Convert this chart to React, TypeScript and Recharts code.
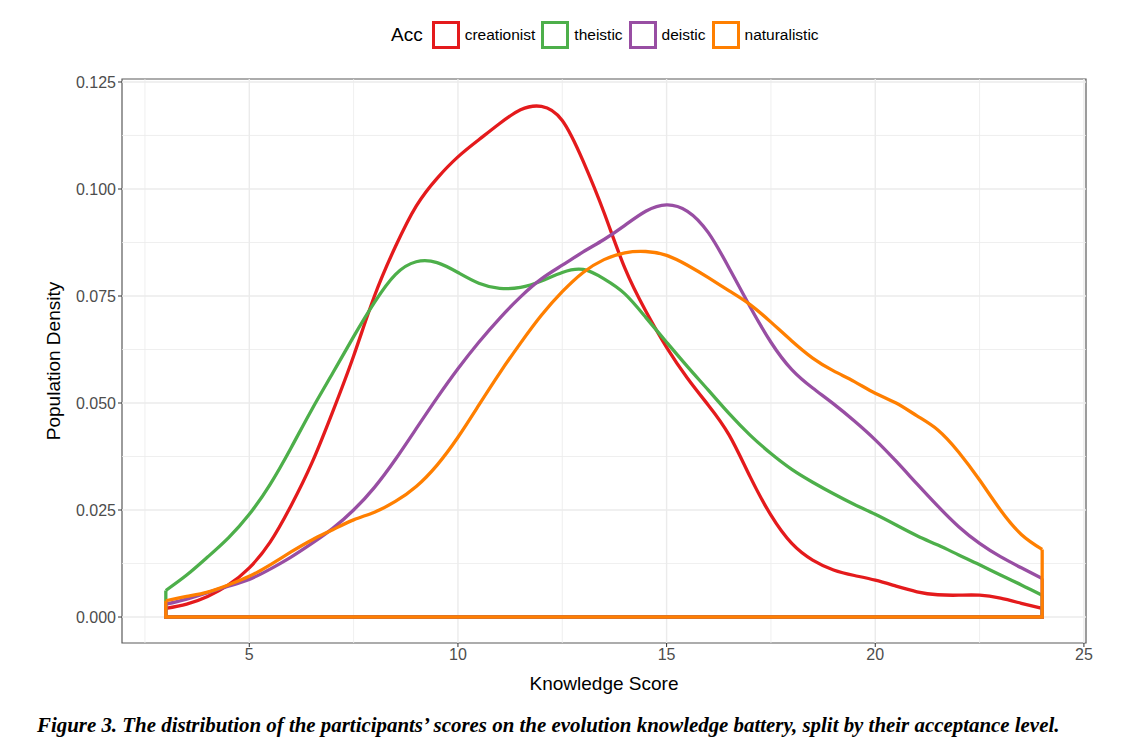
import { CartesianGrid, Line, LineChart, ReferenceArea, ReferenceLine, XAxis, YAxis } from 'recharts'

// knowledge score grid the densities were read at
const scores = [
  3, 3.5, 4, 4.5, 5, 5.5, 6, 6.5, 7, 7.5, 8, 8.5, 9, 9.5, 10, 10.5, 11, 11.5, 12, 12.5, 13, 13.5,
  14, 14.5, 15, 15.5, 16, 16.5, 17, 17.5, 18, 18.5, 19, 19.5, 20, 20.5, 21, 21.5, 22, 22.5, 23, 23.5, 24,
]

const creationist = [
  0.002, 0.003, 0.0048, 0.0075, 0.0115, 0.0175, 0.026, 0.036, 0.048, 0.061, 0.075, 0.0865, 0.096, 0.1025,
  0.1075, 0.1115, 0.1153, 0.1185, 0.1193, 0.116, 0.1065, 0.0945, 0.0815, 0.0715, 0.063, 0.0558, 0.0495,
  0.0425, 0.0328, 0.0238, 0.0172, 0.0133, 0.011, 0.0097, 0.0086, 0.0072, 0.0059, 0.0052, 0.0051, 0.0051,
  0.0044, 0.0032, 0.002,
]
const theistic = [
  0.0062, 0.0098, 0.014, 0.0185, 0.024, 0.031, 0.0395, 0.0485, 0.057, 0.0655, 0.0735, 0.08, 0.083,
  0.0828, 0.0805, 0.078, 0.0768, 0.077, 0.0785, 0.0805, 0.0812, 0.079, 0.0755, 0.07, 0.0642, 0.0585,
  0.053, 0.0475, 0.0425, 0.0382, 0.0345, 0.0315, 0.0288, 0.0263, 0.024, 0.0215, 0.019, 0.0168, 0.0145,
  0.0122, 0.0098, 0.0075, 0.0051,
]
const deistic = [
  0.003, 0.0042, 0.0057, 0.0072, 0.0088, 0.0112, 0.014, 0.0172, 0.0207, 0.025, 0.0303, 0.0368, 0.044,
  0.0512, 0.058, 0.0642, 0.0698, 0.0748, 0.079, 0.0822, 0.0853, 0.0882, 0.0915, 0.0948, 0.0963, 0.0948,
  0.0898, 0.0815, 0.0725, 0.0642, 0.0578, 0.0535, 0.0498, 0.0458, 0.0414, 0.0364, 0.0311, 0.0259, 0.0211,
  0.0172, 0.0141, 0.0115, 0.009,
]
const naturalistic = [
  0.0038, 0.0048, 0.0058, 0.0075, 0.0095, 0.0122, 0.0152, 0.018, 0.0204, 0.0227, 0.0245, 0.027, 0.0305,
  0.0355, 0.042, 0.0495, 0.057, 0.064, 0.0705, 0.076, 0.0805, 0.0835, 0.0851, 0.0854, 0.0845, 0.0822,
  0.0793, 0.0762, 0.073, 0.0689, 0.0645, 0.0605, 0.0575, 0.055, 0.0523, 0.05, 0.047, 0.0437, 0.0385,
  0.032, 0.025, 0.0193, 0.0158,
]

const groups = [
  { name: 'creationist', color: '#E41A1C', values: creationist },
  { name: 'theistic', color: '#4DAF4A', values: theistic },
  { name: 'deistic', color: '#984EA3', values: deistic },
  { name: 'naturalistic', color: '#FF7F00', values: naturalistic },
]

const xTicks = [5, 10, 15, 20, 25]
const xMinor = [2.5, 7.5, 12.5, 17.5, 22.5]
const yTicks = [0, 0.025, 0.05, 0.075, 0.1, 0.125]
const yMinor = [0.0125, 0.0375, 0.0625, 0.0875, 0.1125]
const xDomain = [1.95, 25.05]
const yDomain = [-0.00607, 0.1257]

const FONT = '"Liberation Sans", Arial, Helvetica, sans-serif'

function Legend() {
  return (
    <div style={{ position: 'absolute', left: 383, top: 13, display: 'flex', alignItems: 'center', height: 28 }}>
      <span style={{ fontSize: 19, marginRight: 9, color: '#000' }}>Acc</span>
      {groups.map(g => (
        <span key={g.name} style={{ display: 'flex', alignItems: 'center' }}>
          <span style={{ width: 28, height: 28, boxSizing: 'border-box', border: `3px solid ${g.color}`, background: '#fff' }} />
          <span style={{ fontSize: 15.5, marginLeft: 5, marginRight: 6, color: '#000' }}>{g.name}</span>
        </span>
      ))}
    </div>
  )
}

export default function App() {
  const last = scores.length - 1
  return (
    <div style={{ position: 'relative', width: 1110, height: 740, fontFamily: FONT, background: '#fff' }}>
      <Legend />
      <LineChart width={1110} height={695} margin={{ top: 71, right: 32, bottom: 0, left: 0 }}>
        <CartesianGrid stroke="none" />
        {xMinor.map(v => <ReferenceLine key={'xm' + v} x={v} stroke="#EBEBEB" strokeWidth={0.8} />)}
        {yMinor.map(v => <ReferenceLine key={'ym' + v} y={v} stroke="#EBEBEB" strokeWidth={0.8} />)}
        {xTicks.map(v => <ReferenceLine key={'xM' + v} x={v} stroke="#EBEBEB" strokeWidth={1.4} />)}
        {yTicks.map(v => <ReferenceLine key={'yM' + v} y={v} stroke="#EBEBEB" strokeWidth={1.4} />)}
        <XAxis
          dataKey="x"
          type="number"
          domain={xDomain}
          ticks={xTicks}
          allowDataOverflow
          height={60}
          axisLine={false}
          tickSize={4}
          tickMargin={2}
          tickLine={{ stroke: '#333' }}
          tick={{ fill: '#4D4D4D', fontSize: 16 }}
          label={{ value: 'Knowledge Score', position: 'insideBottom', offset: 13, fill: '#000', fontSize: 19 }}
        />
        <YAxis
          type="number"
          domain={yDomain}
          ticks={yTicks}
          allowDataOverflow
          width={114}
          axisLine={false}
          tickSize={4}
          tickMargin={2}
          tickLine={{ stroke: '#333' }}
          tick={{ fill: '#4D4D4D', fontSize: 16 }}
          tickFormatter={(v: number) => v.toFixed(3)}
          label={{
            value: 'Population Density',
            angle: -90,
            position: 'insideLeft',
            offset: 45,
            fill: '#000',
            fontSize: 19,
            style: { textAnchor: 'middle' },
          }}
        />
        <ReferenceArea
          x1={xDomain[0]}
          x2={xDomain[1]}
          y1={yDomain[0]}
          y2={yDomain[1]}
          fill="none"
          fillOpacity={0}
          stroke="#5a5a5a"
          strokeWidth={1.2}
        />
        {groups.flatMap(g => [
          <Line
            key={g.name}
            data={scores.map((x, i) => ({ x, y: g.values[i] }))}
            dataKey="y"
            type="natural"
            stroke={g.color}
            strokeWidth={3.3}
            dot={false}
            activeDot={false}
            isAnimationActive={false}
          />,
          <Line
            key={g.name + '-base'}
            data={[
              { x: scores[0], y: g.values[0] },
              { x: scores[0], y: 0 },
              { x: scores[last], y: 0 },
              { x: scores[last], y: g.values[last] },
            ]}
            dataKey="y"
            type="linear"
            stroke={g.color}
            strokeWidth={3.3}
            strokeLinejoin="miter"
            dot={false}
            activeDot={false}
            isAnimationActive={false}
          />,
        ])}
      </LineChart>
      <div
        style={{
          position: 'absolute',
          left: 29,
          top: 705,
          fontFamily: '"Liberation Serif", "Times New Roman", serif',
          fontStyle: 'italic',
          fontWeight: 'bold',
          fontSize: 20.9,
          whiteSpace: 'nowrap',
          color: '#000',
        }}
      >
        Figure 3. The distribution of the participants’ scores on the evolution knowledge battery, split by their acceptance level.
      </div>
    </div>
  )
}
